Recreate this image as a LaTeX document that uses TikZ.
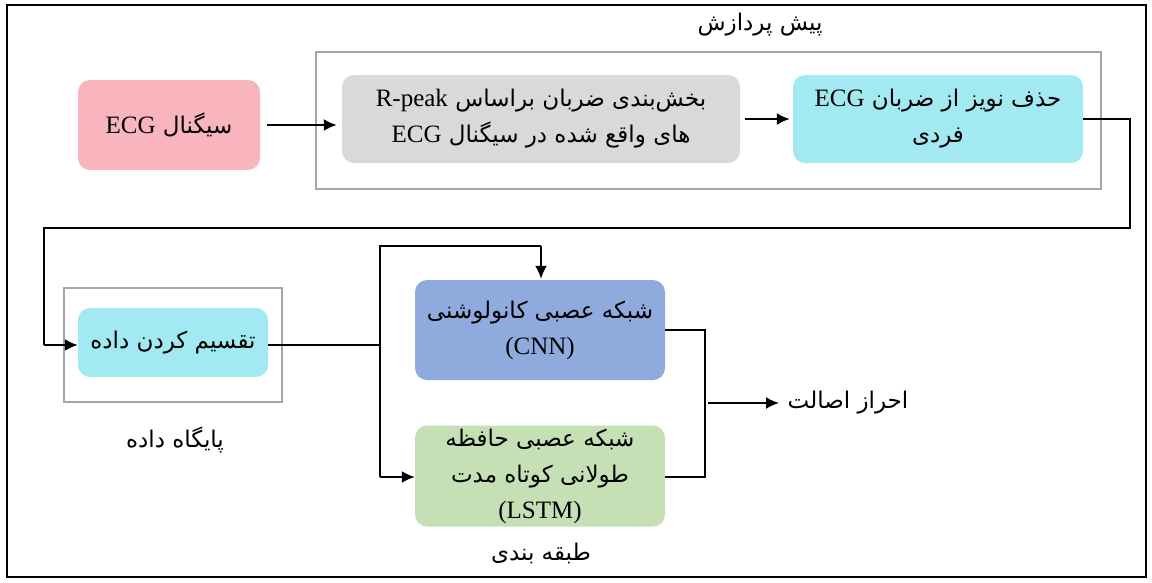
\documentclass[tikz,border=0pt]{standalone}
\usepackage{fontspec}
\setmainfont{Liberation Serif}
\newfontfamily\fa[Script=Arabic]{DejaVu Sans}
\newfontfamily\lat{Liberation Serif}
\TeXXeTstate=1
\usetikzlibrary{arrows.meta}
\newcommand\fafont{\fa\fontsize{23}{36}\selectfont}
\newcommand\fatext[1]{\beginR #1\endR}
\newcommand\latw[1]{\beginL{\lat\fontsize{25}{36}\selectfont #1}\endL}
\definecolor{cpink}{RGB}{249,181,189}
\definecolor{cgray}{RGB}{217,217,217}
\definecolor{ccyan}{RGB}{163,233,241}
\definecolor{cblue}{RGB}{143,170,220}
\definecolor{cgreen}{RGB}{197,224,180}
\definecolor{framegray}{RGB}{166,166,166}
\begin{document}
\begin{tikzpicture}[x=1pt,y=-1pt,
  box/.style={rounded corners=12pt, draw=none, align=center, inner sep=2pt, font=\fafont},
  frame/.style={draw=framegray, line width=1.2pt},
  conn/.style={line width=2pt},
  arr/.style={conn, -{Latex[length=13pt,width=12pt]}},
  lbl/.style={font=\fafont, inner sep=0pt}]
\useasboundingbox (0,0) rectangle (1152,582);
\draw[line width=1.6pt] (7,5) rectangle (1146,577);
% containers
\node[frame, minimum width=785pt, minimum height=137pt] (pre) at (708.5,120.5) {};
\node[frame, minimum width=218pt, minimum height=114pt] (db) at (173,345) {};
% labels
\node[lbl] (tpre) at (760,25) {\fatext{پیش پردازش}};
\node[lbl] (tdb) at (175,440) {\fatext{پایگاه داده}};
\node[lbl] (tcls) at (541,553) {\fatext{طبقه بندی}};
\node[lbl] (tauth) at (848,403) {\fatext{احراز اصالت}};
% boxes
\node[box, fill=cpink, minimum width=182pt, minimum height=90pt] (ecg) at (169,125)
  {\fatext{سیگنال \latw{ECG}}};
\node[box, fill=cgray, minimum width=398pt, minimum height=88pt] (seg) at (541,119)
  {\fatext{بخش‌بندی ضربان براساس \latw{R-peak}}\\\fatext{های واقع شده در سیگنال \latw{ECG}}};
\node[box, fill=ccyan, minimum width=290pt, minimum height=88pt] (noise) at (938,119)
  {\fatext{حذف نویز از ضربان \latw{ECG}}\\\fatext{فردی}};
\node[box, fill=ccyan, minimum width=190pt, minimum height=69pt] (split) at (173,342.5)
  {\fatext{تقسیم کردن داده}};
\node[box, fill=cblue, minimum width=250pt, minimum height=100pt] (cnn) at (540,330)
  {\fatext{شبکه عصبی کانولوشنی}\\\latw{(CNN)}};
\node[box, fill=cgreen, minimum width=250pt, minimum height=101pt] (lstm) at (540,476)
  {\fatext{شبکه عصبی حافظه}\\\fatext{طولانی کوتاه مدت}\\\latw{(LSTM)}};
% coordinates
\coordinate (r1) at (1130,119);
\coordinate (r2) at (1130,228);
\coordinate (l1) at (44,228);
\coordinate (l2) at (44,345);
\coordinate (jm) at (380,345);
\coordinate (jt) at (380,246);
\coordinate (jt2) at (541,246);
\coordinate (jb) at (380,477);
\coordinate (cr) at (705,330);
\coordinate (lr) at (705,477);
\coordinate (ao1) at (708,403);
\coordinate (ao2) at (779,403);
% connectors
\draw[arr, shorten <=7pt, shorten >=5pt] (ecg.east) -- (ecg.east -| seg.west);
\draw[arr, shorten <=5pt, shorten >=3pt] (seg.east) -- (noise.west);
\draw[conn] (noise.east) -- (r1) -- (r2) -- (l1) -- (l2);
\draw[arr] (l2) -- (l2 -| split.west);
\draw[conn] (split.east |- jm) -- (jm);
\draw[conn] (jb) -- (jt) -- (jt2);
\draw[arr, shorten >=1pt] (jt2) -- (jt2 |- cnn.north);
\draw[arr] (jb) -- (jb -| lstm.west);
\draw[conn] (cnn.east |- cr) -- (cr) -- (lr) -- (lstm.east |- lr);
\draw[arr] (ao1) -- (ao2);
\end{tikzpicture}
\end{document}
